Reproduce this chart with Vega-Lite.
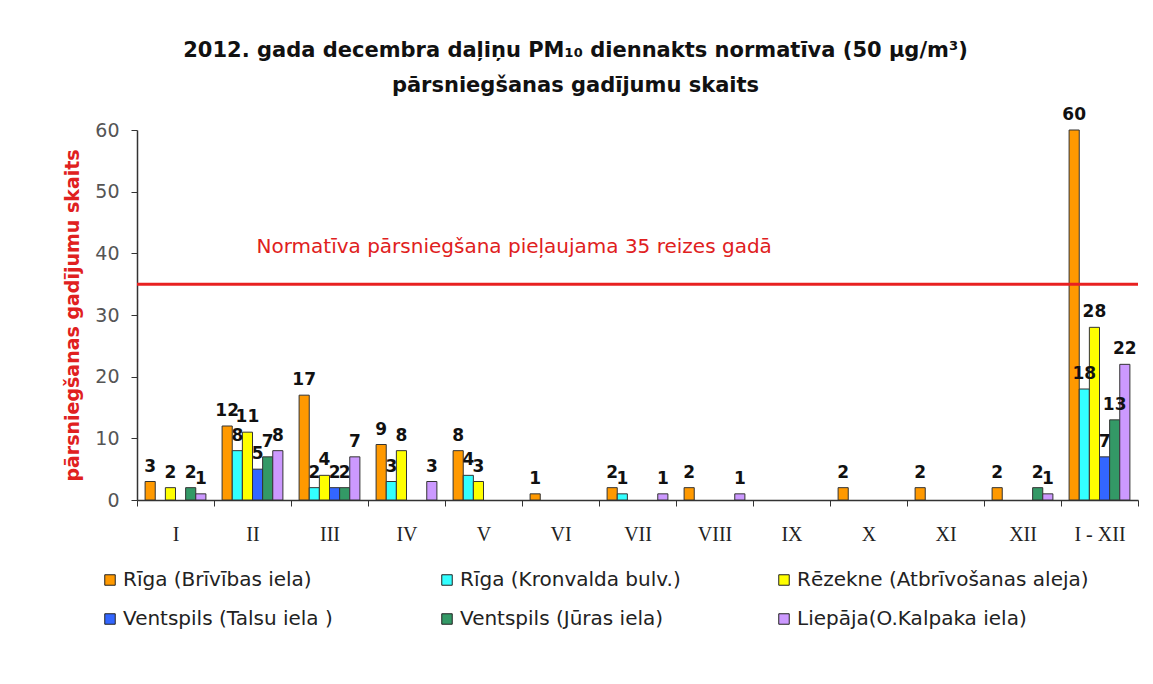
{
  "$schema": "https://vega.github.io/schema/vega-lite/v6.json",
  "autosize": {"type": "none"},
  "padding": {"left": 137, "top": 130, "right": 15, "bottom": 184},
  "width": 1001,
  "height": 370,
  "background": "white",
  "view": {"stroke": null},
  "title": {
    "text": ["2012. gada decembra daļiņu PM₁₀ diennakts normatīva (50 µg/m³)", "pārsniegšanas gadījumu skaits"],
    "font": "DejaVu Sans",
    "fontSize": 21,
    "fontWeight": "bold",
    "color": "#111",
    "anchor": "middle",
    "dx": -62,
    "offset": 10,
    "lineHeight": 35
  },
  "data": {
    "values": [
      {"month": "I", "station": "Rīga (Brīvības iela)", "value": 3},
      {"month": "I", "station": "Rēzekne (Atbrīvošanas aleja)", "value": 2},
      {"month": "I", "station": "Ventspils (Jūras iela)", "value": 2},
      {"month": "I", "station": "Liepāja(O.Kalpaka iela)", "value": 1},
      {"month": "II", "station": "Rīga (Brīvības iela)", "value": 12},
      {"month": "II", "station": "Rīga (Kronvalda bulv.)", "value": 8},
      {"month": "II", "station": "Rēzekne (Atbrīvošanas aleja)", "value": 11},
      {"month": "II", "station": "Ventspils (Talsu iela )", "value": 5},
      {"month": "II", "station": "Ventspils (Jūras iela)", "value": 7},
      {"month": "II", "station": "Liepāja(O.Kalpaka iela)", "value": 8},
      {"month": "III", "station": "Rīga (Brīvības iela)", "value": 17},
      {"month": "III", "station": "Rīga (Kronvalda bulv.)", "value": 2},
      {"month": "III", "station": "Rēzekne (Atbrīvošanas aleja)", "value": 4},
      {"month": "III", "station": "Ventspils (Talsu iela )", "value": 2},
      {"month": "III", "station": "Ventspils (Jūras iela)", "value": 2},
      {"month": "III", "station": "Liepāja(O.Kalpaka iela)", "value": 7},
      {"month": "IV", "station": "Rīga (Brīvības iela)", "value": 9},
      {"month": "IV", "station": "Rīga (Kronvalda bulv.)", "value": 3},
      {"month": "IV", "station": "Rēzekne (Atbrīvošanas aleja)", "value": 8},
      {"month": "IV", "station": "Liepāja(O.Kalpaka iela)", "value": 3},
      {"month": "V", "station": "Rīga (Brīvības iela)", "value": 8},
      {"month": "V", "station": "Rīga (Kronvalda bulv.)", "value": 4},
      {"month": "V", "station": "Rēzekne (Atbrīvošanas aleja)", "value": 3},
      {"month": "VI", "station": "Rīga (Brīvības iela)", "value": 1},
      {"month": "VII", "station": "Rīga (Brīvības iela)", "value": 2},
      {"month": "VII", "station": "Rīga (Kronvalda bulv.)", "value": 1},
      {"month": "VII", "station": "Liepāja(O.Kalpaka iela)", "value": 1},
      {"month": "VIII", "station": "Rīga (Brīvības iela)", "value": 2},
      {"month": "VIII", "station": "Liepāja(O.Kalpaka iela)", "value": 1},
      {"month": "X", "station": "Rīga (Brīvības iela)", "value": 2},
      {"month": "XI", "station": "Rīga (Brīvības iela)", "value": 2},
      {"month": "XII", "station": "Rīga (Brīvības iela)", "value": 2},
      {"month": "XII", "station": "Ventspils (Jūras iela)", "value": 2},
      {"month": "XII", "station": "Liepāja(O.Kalpaka iela)", "value": 1},
      {"month": "I - XII", "station": "Rīga (Brīvības iela)", "value": 60},
      {"month": "I - XII", "station": "Rīga (Kronvalda bulv.)", "value": 18},
      {"month": "I - XII", "station": "Rēzekne (Atbrīvošanas aleja)", "value": 28},
      {"month": "I - XII", "station": "Ventspils (Talsu iela )", "value": 7},
      {"month": "I - XII", "station": "Ventspils (Jūras iela)", "value": 13},
      {"month": "I - XII", "station": "Liepāja(O.Kalpaka iela)", "value": 22}
    ]
  },
  "encoding": {
    "x": {
      "field": "month",
      "type": "nominal",
      "sort": ["I", "II", "III", "IV", "V", "VI", "VII", "VIII", "IX", "X", "XI", "XII", "I - XII"],
      "scale": {"domain": ["I", "II", "III", "IV", "V", "VI", "VII", "VIII", "IX", "X", "XI", "XII", "I - XII"], "paddingInner": 0, "paddingOuter": 0},
      "axis": {
        "title": null,
        "labelAngle": 0,
        "labelFont": "Liberation Serif",
        "labelFontSize": 20,
        "labelColor": "#222",
        "labelPadding": 18,
        "tickBand": "extent",
        "tickSize": 6,
        "tickColor": "#333",
        "domainColor": "#333",
        "domainWidth": 1.5
      }
    },
    "xOffset": {
      "field": "station",
      "type": "nominal",
      "scale": {"domain": ["Rīga (Brīvības iela)", "Rīga (Kronvalda bulv.)", "Rēzekne (Atbrīvošanas aleja)", "Ventspils (Talsu iela )", "Ventspils (Jūras iela)", "Liepāja(O.Kalpaka iela)"], "paddingInner": 0, "paddingOuter": 0.8}
    },
    "y": {
      "field": "value",
      "type": "quantitative",
      "scale": {"domain": [0, 60], "nice": false},
      "axis": {
        "title": "pārsniegšanas gadījumu skaits",
        "titleColor": "#e02020",
        "titleFont": "DejaVu Sans",
        "titleFontSize": 19,
        "titleFontWeight": "bold",
        "titlePadding": 12,
        "values": [0, 10, 20, 30, 40, 50, 60],
        "grid": false,
        "labelFont": "DejaVu Sans",
        "labelFontSize": 19,
        "labelColor": "#555",
        "labelPadding": 12,
        "tickSize": 6,
        "tickColor": "#333",
        "domainColor": "#333",
        "domainWidth": 1.5
      }
    }
  },
  "layer": [
    {
      "mark": {"type": "bar", "stroke": "#333", "strokeWidth": 1},
      "encoding": {
        "color": {
          "field": "station",
          "type": "nominal",
          "scale": {
            "domain": ["Rīga (Brīvības iela)", "Rīga (Kronvalda bulv.)", "Rēzekne (Atbrīvošanas aleja)", "Ventspils (Talsu iela )", "Ventspils (Jūras iela)", "Liepāja(O.Kalpaka iela)"],
            "range": ["#ff9900", "#33ffff", "#ffff00", "#3366ff", "#339966", "#cc99ff"]
          },
          "legend": {
            "title": null,
            "orient": "none",
            "legendX": -37,
            "legendY": 440,
            "columns": 3,
            "direction": "horizontal",
            "gridAlign": "all",
            "columnPadding": 22,
            "rowPadding": 19,
            "symbolType": "square",
            "symbolSize": 110,
            "symbolStrokeColor": "#222",
            "symbolStrokeWidth": 1,
            "symbolOffset": 0,
            "labelOffset": 3,
            "labelFont": "DejaVu Sans",
            "labelFontSize": 20,
            "labelColor": "#222",
            "labelLimit": 400
          }
        }
      }
    },
    {
      "mark": {"type": "text", "baseline": "bottom", "dy": -6, "font": "DejaVu Sans", "fontSize": 17, "fontWeight": "bold", "color": "#111"},
      "encoding": {"text": {"field": "value", "type": "quantitative"}}
    },
    {
      "transform": [{"filter": "datum.month == 'I - XII' && datum.value == 60"}],
      "mark": {"type": "rule", "color": "#e82020", "strokeWidth": 3},
      "encoding": {"y": {"datum": 35}, "x": null, "xOffset": null}
    },
    {
      "transform": [{"filter": "datum.month == 'I - XII' && datum.value == 60"}],
      "mark": {"type": "text", "align": "left", "baseline": "middle", "dx": 4, "font": "DejaVu Sans", "fontSize": 20, "color": "#e02020", "text": "Normatīva pārsniegšana pieļaujama 35 reizes gadā"},
      "encoding": {"x": {"datum": "II"}, "y": {"datum": 41}, "xOffset": null}
    }
  ]
}
